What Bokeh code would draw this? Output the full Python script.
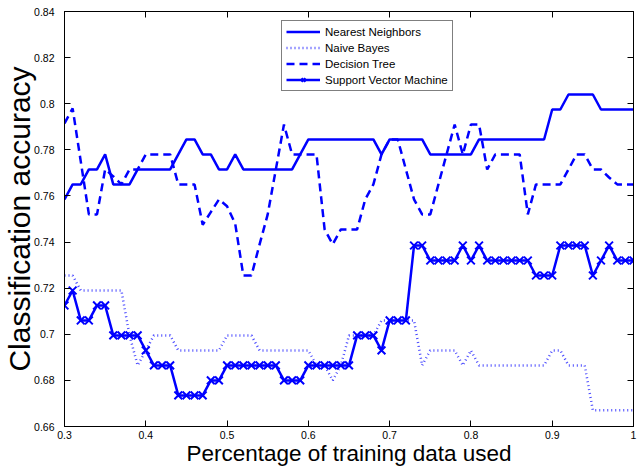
import numpy as np
from bokeh.plotting import figure
from bokeh.models import Range1d, LinearAxis, FixedTicker, Legend, LegendItem, CustomJSTickFormatter
from bokeh.embed import file_html
from bokeh.resources import INLINE

# ---------------- data ----------------
pct = [round(v, 2) for v in np.arange(0.30, 1.0001, 0.01)]

nearest_neighbors = [
    0.7585, 0.765, 0.765, 0.7715, 0.7715, 0.778, 0.765, 0.765, 0.765, 0.7715,
    0.7715, 0.7715, 0.7715, 0.7715, 0.778, 0.7845, 0.7845, 0.778, 0.778, 0.7715,
    0.7715, 0.778, 0.7715, 0.7715, 0.7715, 0.7715, 0.7715, 0.7715, 0.7715, 0.778,
    0.7845, 0.7845, 0.7845, 0.7845, 0.7845, 0.7845, 0.7845, 0.7845, 0.7845, 0.778,
    0.7845, 0.7845, 0.7845, 0.7845, 0.7845, 0.778, 0.778, 0.778, 0.778, 0.778,
    0.778, 0.7845, 0.7845, 0.7845, 0.7845, 0.7845, 0.7845, 0.7845, 0.7845, 0.7845,
    0.7975, 0.7975, 0.804, 0.804, 0.804, 0.804, 0.7975, 0.7975, 0.7975, 0.7975,
    0.7975,
]

naive_bayes = [
    0.7255, 0.7255, 0.719, 0.719, 0.719, 0.719, 0.719, 0.719, 0.6995, 0.6865,
    0.693, 0.6995, 0.6995, 0.6995, 0.693, 0.693, 0.693, 0.693, 0.693, 0.693,
    0.6995, 0.6995, 0.6995, 0.6995, 0.693, 0.693, 0.693, 0.693, 0.693, 0.693,
    0.693, 0.6865, 0.6865, 0.680, 0.6865, 0.6995, 0.6995, 0.6995, 0.6995, 0.706,
    0.706, 0.706, 0.706, 0.706, 0.6865, 0.693, 0.693, 0.693, 0.693, 0.6865,
    0.693, 0.6865, 0.6865, 0.6865, 0.6865, 0.6865, 0.6865, 0.6865, 0.6865, 0.6865,
    0.693, 0.693, 0.6865, 0.6865, 0.6865, 0.667, 0.667, 0.667, 0.667, 0.667,
    0.667,
]

decision_tree = [
    0.7915, 0.798, 0.775, 0.752, 0.752, 0.7715, 0.7685, 0.765, 0.7715, 0.7715,
    0.778, 0.778, 0.778, 0.778, 0.765, 0.765, 0.765, 0.7475, 0.753, 0.7585,
    0.7555, 0.748, 0.7255, 0.7255, 0.739, 0.752, 0.7715, 0.791, 0.778, 0.778,
    0.778, 0.778, 0.7455, 0.739, 0.7455, 0.7455, 0.7455, 0.7585, 0.765, 0.778,
    0.7845, 0.7845, 0.7715, 0.7585, 0.752, 0.752, 0.765, 0.778, 0.791, 0.778,
    0.791, 0.791, 0.7715, 0.778, 0.778, 0.778, 0.778, 0.752, 0.765, 0.765,
    0.765, 0.765, 0.7715, 0.778, 0.778, 0.7715, 0.7715, 0.768, 0.765, 0.765,
    0.765,
]

svm = [
    0.7125, 0.719, 0.706, 0.706, 0.7125, 0.7125, 0.6995, 0.6995, 0.6995, 0.6995,
    0.693, 0.6865, 0.6865, 0.6865, 0.6735, 0.6735, 0.6735, 0.6735, 0.680, 0.680,
    0.6865, 0.6865, 0.6865, 0.6865, 0.6865, 0.6865, 0.6865, 0.680, 0.680, 0.680,
    0.6865, 0.6865, 0.6865, 0.6865, 0.6865, 0.6865, 0.6995, 0.6995, 0.6995, 0.693,
    0.706, 0.706, 0.706, 0.7385, 0.7385, 0.732, 0.732, 0.732, 0.732, 0.7385,
    0.732, 0.7385, 0.732, 0.732, 0.732, 0.732, 0.732, 0.732, 0.7255, 0.7255,
    0.7255, 0.7385, 0.7385, 0.7385, 0.7385, 0.7255, 0.732, 0.7385, 0.732, 0.732,
    0.732,
]

series_names = ["Nearest Neighbors", "Naive Bayes", "Decision Tree", "Support Vector Machine"]

x_ticks = [0.3, 0.4, 0.5, 0.6, 0.7, 0.8, 0.9, 1.0]
x_tick_labels = ["0.3", "0.4", "0.5", "0.6", "0.7", "0.8", "0.9", "1"]
y_ticks = [0.66, 0.68, 0.70, 0.72, 0.74, 0.76, 0.78, 0.80, 0.82, 0.84]
y_tick_labels = ["0.66", "0.68", "0.7", "0.72", "0.74", "0.76", "0.78", "0.8", "0.82", "0.84"]

x_title = "Percentage of training data used"
y_title = "Classification accuracy"

# ---------------- figure ----------------
FONT = "Liberation Sans"
BLUE = "#0000ff"

p = figure(width=644, height=468, output_backend="svg", toolbar_location=None,
           x_range=Range1d(0.3, 1.0), y_range=Range1d(0.66, 0.84),
           min_border_left=63, min_border_right=11, min_border_top=11, min_border_bottom=40,
           x_axis_label=x_title, y_axis_label=y_title)
p.xgrid.visible = False
p.ygrid.visible = False
p.outline_line_color = "black"
p.outline_line_width = 1
p.background_fill_color = "white"
p.border_fill_color = "white"

def style_axis(ax, ticks, labels, show_labels=True):
    ax.ticker = FixedTicker(ticks=ticks)
    if show_labels:
        ax.major_label_overrides = {t: l for t, l in zip(ticks, labels)}
        ax.major_label_text_font_size = "10.5px"
    else:
        ax.formatter = CustomJSTickFormatter(code="return ''")
        ax.major_label_text_font_size = "1px"
    ax.major_tick_in = 6
    ax.major_tick_out = 0
    ax.minor_tick_line_color = None
    ax.axis_line_color = "black"
    ax.major_tick_line_color = "black"
    ax.major_label_text_font = FONT
    ax.major_label_text_color = "black"
    ax.axis_label_text_font = FONT
    ax.axis_label_text_font_style = "normal"
    ax.axis_label_text_color = "black"

xa = p.xaxis[0]
ya = p.yaxis[0]
style_axis(xa, x_ticks, x_tick_labels)
style_axis(ya, y_ticks, y_tick_labels)
xa.major_label_standoff = 4
xa.axis_label_standoff = -1
xa.axis_label_text_font_size = "22.5px"
ya.major_label_standoff = 10
ya.axis_label_standoff = -5
ya.axis_label_text_font_size = "30px"

top = LinearAxis(axis_label=None)
style_axis(top, x_ticks, x_tick_labels, show_labels=False)
top.major_label_standoff = 0
p.add_layout(top, "above")
right = LinearAxis(axis_label=None)
style_axis(right, y_ticks, y_tick_labels, show_labels=False)
right.major_label_standoff = 0
p.add_layout(right, "right")

r_nb = p.line(pct, naive_bayes, line_color="#4a4aff", line_width=2.5, line_dash="1 3")
r_dt = p.line(pct, decision_tree, line_color=BLUE, line_width=2.5, line_dash="8 5")
r_nn = p.line(pct, nearest_neighbors, line_color=BLUE, line_width=2.5)
r_svm = p.line(pct, svm, line_color=BLUE, line_width=2.5)
r_svm_m = p.scatter(pct, svm, marker="x", size=11, line_color=BLUE, line_width=2)

legend = Legend(items=[
    LegendItem(label=series_names[0], renderers=[r_nn]),
    LegendItem(label=series_names[1], renderers=[r_nb]),
    LegendItem(label=series_names[2], renderers=[r_dt]),
    LegendItem(label=series_names[3], renderers=[r_svm, r_svm_m]),
], location=(217, 335))
legend.label_text_font = FONT
legend.label_text_font_size = "11.5px"
legend.label_text_color = "black"
legend.label_height = 13
legend.glyph_height = 13
legend.glyph_width = 34
legend.spacing = 3
legend.padding = 4
legend.label_standoff = 5
legend.margin = 0
legend.border_line_color = "black"
legend.border_line_width = 1
legend.background_fill_color = "white"
legend.background_fill_alpha = 1.0
p.add_layout(legend, "center")

open("out.html", "w").write(file_html(p, INLINE))
